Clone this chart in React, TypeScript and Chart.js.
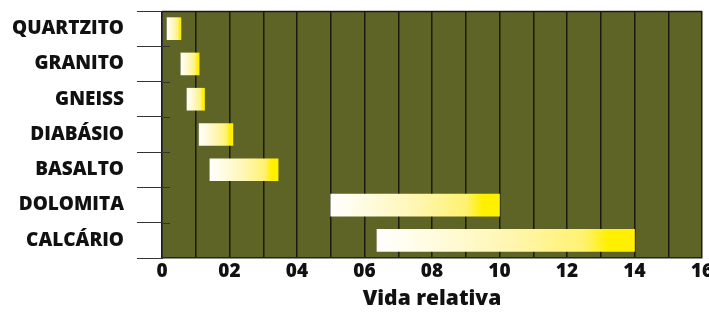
import React, { useEffect, useRef } from "react";
import { Chart, registerables } from "chart.js";

Chart.register(...registerables);

const categories = ["QUARTZITO", "GRANITO", "GNEISS", "DIABÁSIO", "BASALTO", "DOLOMITA", "CALCÁRIO"];
const startValues = [0.15, 0.56, 0.74, 1.1, 1.42, 5.0, 6.37];
const endValues = [0.56, 1.1, 1.26, 2.1, 3.44, 10.0, 14.0];
const xMin = 0;
const xMax = 16;
const axisTitle = "Vida relativa";

const OLIVE = "#5e6326";
const FONT = "'Open Sans', 'Noto Sans', sans-serif";

const framePlugin = {
  id: "frame",
  beforeDraw(chart: any) {
    const { ctx, chartArea } = chart;
    ctx.save();
    ctx.fillStyle = OLIVE;
    ctx.fillRect(chartArea.left, chartArea.top, chartArea.right - chartArea.left, chartArea.bottom - chartArea.top);
    ctx.restore();
  },
  afterDraw(chart: any) {
    const { ctx, chartArea, scales } = chart;
    const y = scales.y;
    ctx.save();
    ctx.strokeStyle = "#1a1a10";
    ctx.lineWidth = 1.5;
    ctx.beginPath();
    ctx.moveTo(chartArea.left, chartArea.top + 0.5);
    ctx.lineTo(chartArea.right, chartArea.top + 0.5);
    ctx.stroke();
    ctx.strokeStyle = "#333";
    ctx.lineWidth = 1;
    for (let i = 0; i < categories.length - 1; i++) {
      const yy = Math.round((y.getPixelForValue(i) + y.getPixelForValue(i + 1)) / 2) + 0.5;
      ctx.beginPath();
      ctx.moveTo(chartArea.left, yy);
      ctx.lineTo(chartArea.left + 8, yy);
      ctx.stroke();
    }
    ctx.restore();
  },
};

export default function App() {
  const ref = useRef<HTMLCanvasElement | null>(null);
  useEffect(() => {
    document.body.style.margin = "0";
    const canvas = ref.current;
    if (!canvas) return;
    const chart = new Chart(canvas, {
      type: "bar",
      data: {
        labels: categories,
        datasets: [
          {
            data: categories.map((_, i) => [startValues[i], endValues[i]]) as any,
            barThickness: 22,
            borderWidth: 0,
            borderSkipped: false,
            backgroundColor: (c: any) => {
              const chart = c.chart;
              const sx = chart.scales && chart.scales.x;
              if (c.type !== "data" || !sx || !Array.isArray(c.raw)) return "#fff200";
              const x0 = sx.getPixelForValue(c.raw[0]);
              const x1 = sx.getPixelForValue(c.raw[1]);
              if (!isFinite(x0) || !isFinite(x1) || x1 === x0) return "#fff200";
              const g = chart.ctx.createLinearGradient(x0, 0, x1, 0);
              g.addColorStop(0, "#ffffff");
              g.addColorStop(0.5, "#fff6b4");
              g.addColorStop(0.8, "#fff271");
              g.addColorStop(0.9, "#fff000");
              g.addColorStop(1, "#fff000");
              return g;
            },
          },
        ],
      },
      options: {
        indexAxis: "y",
        animation: false,
        responsive: false,
        layout: { padding: { top: 11, left: 0, right: 7, bottom: 0 } },
        plugins: { legend: { display: false }, tooltip: { enabled: false } },
        scales: {
          x: {
            type: "linear",
            min: xMin,
            max: xMax,
            afterFit: (s: any) => {
              s.height = 54;
              s.paddingLeft = 0;
              s.paddingRight = 0;
            },
            ticks: {
              stepSize: 1,
              autoSkip: false,
              maxRotation: 0,
              padding: 2,
              color: "#111",
              font: { family: FONT, weight: 800, size: 19 },
              callback: (v: any) => {
                const n = Number(v);
                if (n % 2 !== 0) return "";
                return n > 0 && n < 10 ? "0" + n : String(n);
              },
            },
            grid: { color: "#1a1a10", lineWidth: 1.5, drawTicks: false },
            border: { display: true, color: "#222", width: 1.5 },
            title: {
              display: true,
              text: axisTitle,
              color: "#111",
              font: { family: FONT, weight: 800, size: 21 },
              padding: { top: 0, bottom: 0 },
            },
          },
          y: {
            type: "category",
            afterFit: (s: any) => {
              s.width = 162;
              s.paddingTop = 0;
              s.paddingBottom = 0;
            },
            ticks: {
              padding: 13,
              color: "#111",
              font: { family: FONT, weight: 800, size: 19 },
            },
            grid: { offset: true, drawOnChartArea: false, tickLength: 25, color: "#333", lineWidth: 1 },
            border: { display: true, color: "#333", width: 1 },
          },
        },
      },
      plugins: [framePlugin],
    } as any);
    return () => chart.destroy();
  }, []);
  return (
    <div style={{ width: 709, height: 312, overflow: "hidden" }}>
      <canvas ref={ref} width={709} height={312} style={{ display: "block" }} />
    </div>
  );
}
